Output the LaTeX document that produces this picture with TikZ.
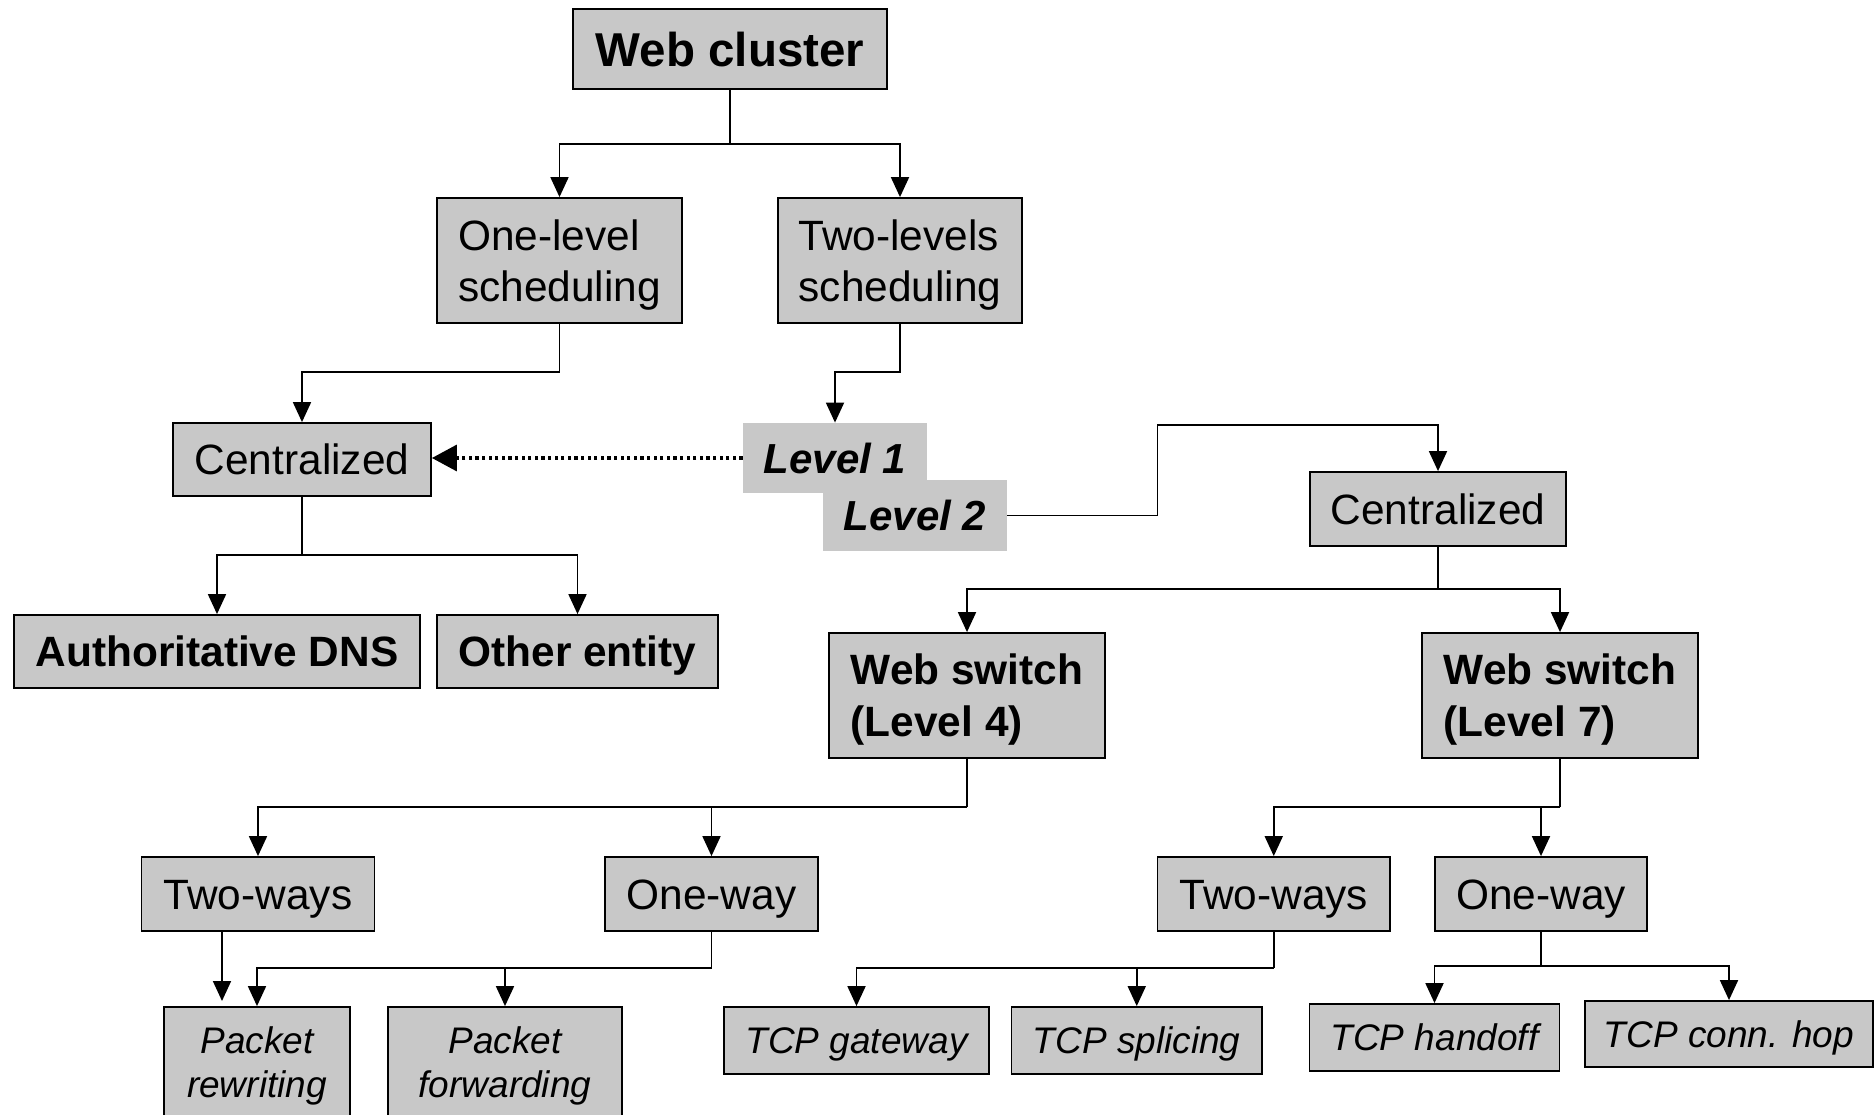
\documentclass[tikz,border=0pt]{standalone}
\usepackage{fontspec}
\setmainfont{Liberation Sans}
\usetikzlibrary{arrows.meta}
\definecolor{boxgray}{RGB}{200,200,200}

\begin{document}
\begin{tikzpicture}[
    x=0.5pt, y=-0.5pt,
    box/.style={rectangle, draw=black, fill=boxgray, line width=0.9pt, inner sep=0pt},
    lbl/.style={rectangle, fill=boxgray, inner sep=0pt},
    reg/.style={font=\fontsize{21.2pt}{25.5pt}\selectfont},
    bld/.style={font=\fontsize{21.2pt}{26pt}\selectfont\bfseries},
    itl/.style={font=\fontsize{18.5pt}{22pt}\selectfont\itshape},
    capc/.style={text height=#1, text depth=0pt},
    multi/.style={text depth=0pt},
    conn/.style={line width=0.9pt},
    arr/.style={conn, -{Triangle[length=10pt,width=9pt]}},
    dotarr/.style={line width=1.65pt, dash pattern=on 1.65pt off 1.65pt,
                   -{Triangle[length=12.5pt,width=13pt]}}
  ]
  \useasboundingbox (0,0) rectangle (1874,1114);
  \clip (0,0) rectangle (1874,1114);
  \fill[white] (0,0) rectangle (1874,1114);

  % ---- top levels
  \node[box, font=\fontsize{23.75pt}{28pt}\selectfont\bfseries, capc=17pt,
        minimum width=157pt, minimum height=40pt] (wc) at (730,49) {Web cluster};
  \node[box, reg, multi, align=left, minimum width=122.5pt, minimum height=62.5pt]
        (one) at (559.5,260.5) {One-level\\scheduling};
  \node[box, reg, multi, align=left, minimum width=122pt, minimum height=62.5pt]
        (two) at (900,260.5) {Two-levels\\scheduling};

  % ---- one-level branch
  \node[box, reg, capc=15.2pt, minimum width=129pt, minimum height=36.5pt]
        (cenL) at (302,459.5) {Centralized};
  \node[box, bld, capc=15.2pt, minimum width=203pt, minimum height=36.5pt]
        (dns) at (217,651.5) {Authoritative DNS};
  \node[box, bld, capc=15.2pt, minimum width=140.5pt, minimum height=36.5pt]
        (oth) at (577.5,651.5) {Other entity};

  % ---- level tags
  \node[lbl, font=\fontsize{21pt}{25pt}\selectfont\bfseries\itshape, capc=15pt,
        minimum width=92pt, minimum height=35pt] (lv1) at (835,458) {Level 1};
  \node[lbl, font=\fontsize{21pt}{25pt}\selectfont\bfseries\itshape, capc=15pt,
        minimum width=92pt, minimum height=35.5pt] (lv2) at (915,515.5) {Level 2};

  % ---- two-levels branch
  \node[box, reg, capc=15.2pt, minimum width=128pt, minimum height=37pt]
        (cenR) at (1438,509) {Centralized};
  \node[box, bld, multi, align=left, minimum width=138pt, minimum height=62.5pt]
        (ws4) at (967,695.5) {Web switch\\(Level 4)};
  \node[box, bld, multi, align=left, minimum width=138pt, minimum height=62.5pt]
        (ws7) at (1560,695.5) {Web switch\\(Level 7)};

  \node[box, reg, capc=15.2pt, minimum width=116.5pt, minimum height=37pt]
        (tw4) at (258,894) {Two-ways};
  \node[box, reg, capc=15.2pt, minimum width=106.5pt, minimum height=37pt]
        (ow4) at (711.5,894) {One-way};
  \node[box, reg, capc=15.2pt, minimum width=116.25pt, minimum height=37pt]
        (tw7) at (1273.75,894) {Two-ways};
  \node[box, reg, capc=15.2pt, minimum width=106pt, minimum height=37pt]
        (ow7) at (1541,894) {One-way};

  % ---- mechanisms
  \node[box, itl, multi, align=center, minimum width=93pt, minimum height=55.5pt]
        (prw) at (257,1062.5) {Packet\\rewriting};
  \node[box, itl, multi, align=center, minimum width=117pt, minimum height=55.5pt]
        (pfw) at (505,1062.5) {Packet\\forwarding};
  \node[box, itl, capc=13.25pt, minimum width=132.5pt, minimum height=33.5pt]
        (tgw) at (856.5,1040.5) {TCP gateway};
  \node[box, itl, capc=13.25pt, minimum width=125.25pt, minimum height=33.5pt]
        (tsp) at (1136.75,1040.5) {TCP splicing};
  \node[box, itl, capc=13.25pt, minimum width=125pt, minimum height=33.5pt]
        (tho) at (1434.5,1037.5) {TCP handoff};
  \node[box, itl, capc=13.25pt, minimum width=144pt, minimum height=33pt]
        (thp) at (1729,1034) {TCP conn. hop};

  % ---- junction points of the connectors
  \coordinate (bwc) at (730,144);
  \coordinate (bone) at (559.5,372);
  \coordinate (btwo) at (900,372);
  \coordinate (bcl) at (302,555);
  \coordinate (k1) at (1157.5,425);
  \coordinate (bcr) at (1438,589);
  \coordinate (bw4) at (967,807);
  \coordinate (bw7) at (1560,807);
  \coordinate (bo4) at (711.5,968);
  \coordinate (bt7) at (1273.75,968);
  \coordinate (bo7) at (1541,966);
  \coordinate (t4a) at (222,931);
  \coordinate (t4b) at (222,1007);

  % ---- connectors
  \draw[conn] (wc.south) -- (bwc);
  \draw[arr] (bwc) -| (one.north);
  \draw[arr] (bwc) -| (two.north);

  \draw[arr] (one.south) -- (bone) -| (cenL.north);
  \draw[arr] (two.south) -- (btwo) -| (lv1.north);

  \draw[dotarr] (lv1.west) -- (lv1.west -| cenL.east);

  \draw[conn] (cenL.south) -- (bcl);
  \draw[arr] (bcl) -| (dns.north);
  \draw[arr] (bcl) -| (oth.north);

  \draw[arr] (lv2.east) -| (k1) -| (cenR.north);

  \draw[conn] (cenR.south) -- (bcr);
  \draw[arr] (bcr) -| (ws4.north);
  \draw[arr] (bcr) -| (ws7.north);

  \draw[conn] (ws4.south) -- (bw4);
  \draw[arr] (bw4) -| (tw4.north);
  \draw[arr] (bw4) -| (ow4.north);

  \draw[conn] (ws7.south) -- (bw7);
  \draw[arr] (bw7) -| (tw7.north);
  \draw[arr] (bw7) -| (ow7.north);

  \draw[arr, shorten >=3pt] (t4a) -- (t4b);

  \draw[conn] (ow4.south) -- (bo4);
  \draw[arr] (bo4) -| (prw.north);
  \draw[arr] (bo4) -| (pfw.north);

  \draw[conn] (tw7.south) -- (bt7);
  \draw[arr] (bt7) -| (tgw.north);
  \draw[arr] (bt7) -| (tsp.north);

  \draw[conn] (ow7.south) -- (bo7);
  \draw[arr] (bo7) -| (tho.north);
  \draw[arr] (bo7) -| (thp.north);
\end{tikzpicture}
\end{document}
